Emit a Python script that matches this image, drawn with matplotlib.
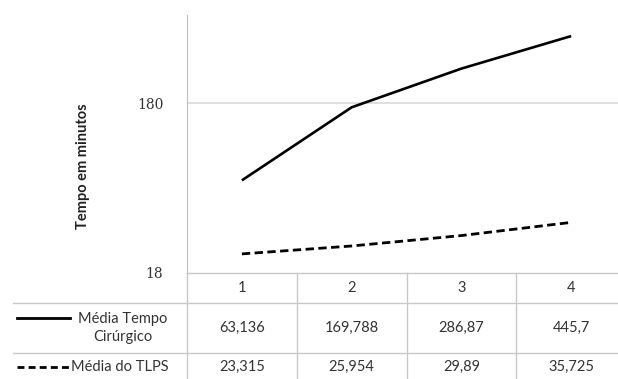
import matplotlib.pyplot as plt
from matplotlib.transforms import blended_transform_factory
from matplotlib.lines import Line2D

# dados
categorias = [1, 2, 3, 4]
tempo_cirurgico = [63.136, 169.788, 286.87, 445.7]
tlps = [23.315, 25.954, 29.89, 35.725]
rotulos_tempo = ['63,136', '169,788', '286,87', '445,7']
rotulos_tlps = ['23,315', '25,954', '29,89', '35,725']
serie_nomes = ['Média Tempo\nCirúrgico', 'Média do TLPS']

W, H = 618, 379
fig = plt.figure(figsize=(W / 100, H / 100), dpi=100)

def fy(p):
    return 1 - p / H

# eixo: esquerda 187px, direita 626px, topo 15px, base 273px
ax = fig.add_axes([187 / W, fy(273), (626 - 187) / W, (273 - 15) / H])
ax.plot(categorias, tempo_cirurgico, color='black', lw=1.9, solid_capstyle='butt')
ax.plot(categorias, tlps, color='black', lw=2.0, dashes=(3, 1.6))
ax.set_yscale('log')
ax.set_ylim(18, 593)
ax.set_xlim(0.5, 4.5)
ax.set_yticks([18, 180])
ax.set_yticklabels(['18', '180'], family='DejaVu Serif', fontsize=10, color='#333333')
ax.minorticks_off()
ax.tick_params(axis='y', length=0, pad=17)
ax.set_xticks([])
ax.axhline(180, color='#d9d9d9', lw=1.2, zorder=0)
for s in ['top', 'right', 'bottom']:
    ax.spines[s].set_visible(False)
ax.spines['left'].set_color('#bfbfbf')

fig.text(83 / W, fy(166), 'Tempo em minutos', rotation=90, ha='center', va='center',
         fontsize=10.5, fontweight='bold', family='Lato', color='#222222')

# tabela de dados
tr = blended_transform_factory(ax.transData, fig.transFigure)
grade = '#c8c8c8'
fonte = dict(family='Lato', fontsize=10.5, color='#333333', ha='center', va='center')

for y in [273, 303, 353]:
    ax.plot([0.5, 4.5], [fy(y), fy(y)], transform=tr, color=grade, lw=1, clip_on=False)
for y in [303, 353]:
    fig.add_artist(Line2D([13 / W, 187 / W], [fy(y), fy(y)], color=grade, lw=1))
for x in [1.5, 2.5, 3.5, 4.5]:
    ax.plot([x, x], [fy(273), 0], transform=tr, color=grade, lw=1, clip_on=False)
fig.add_artist(Line2D([187 / W, 187 / W], [fy(273), 0], color=grade, lw=1))

for i, c in enumerate(categorias):
    ax.text(c, fy(288), str(c), transform=tr, **fonte)
    ax.text(c, fy(328), rotulos_tempo[i], transform=tr, **fonte)
    ax.text(c, fy(367), rotulos_tlps[i], transform=tr, **fonte)

# rótulos das séries com amostra da linha
fig.add_artist(Line2D([17 / W, 70 / W], [fy(318), fy(318)], color='black', lw=2))
fig.text(123 / W, fy(328), serie_nomes[0], linespacing=1.3, **fonte)
fig.add_artist(Line2D([17 / W, 71 / W], [fy(367), fy(367)], color='black', lw=2, dashes=(2.5, 1.5)))
fig.text(71 / W, fy(367), serie_nomes[1], **{**fonte, 'ha': 'left'})

fig.savefig('out.png', dpi=100)
